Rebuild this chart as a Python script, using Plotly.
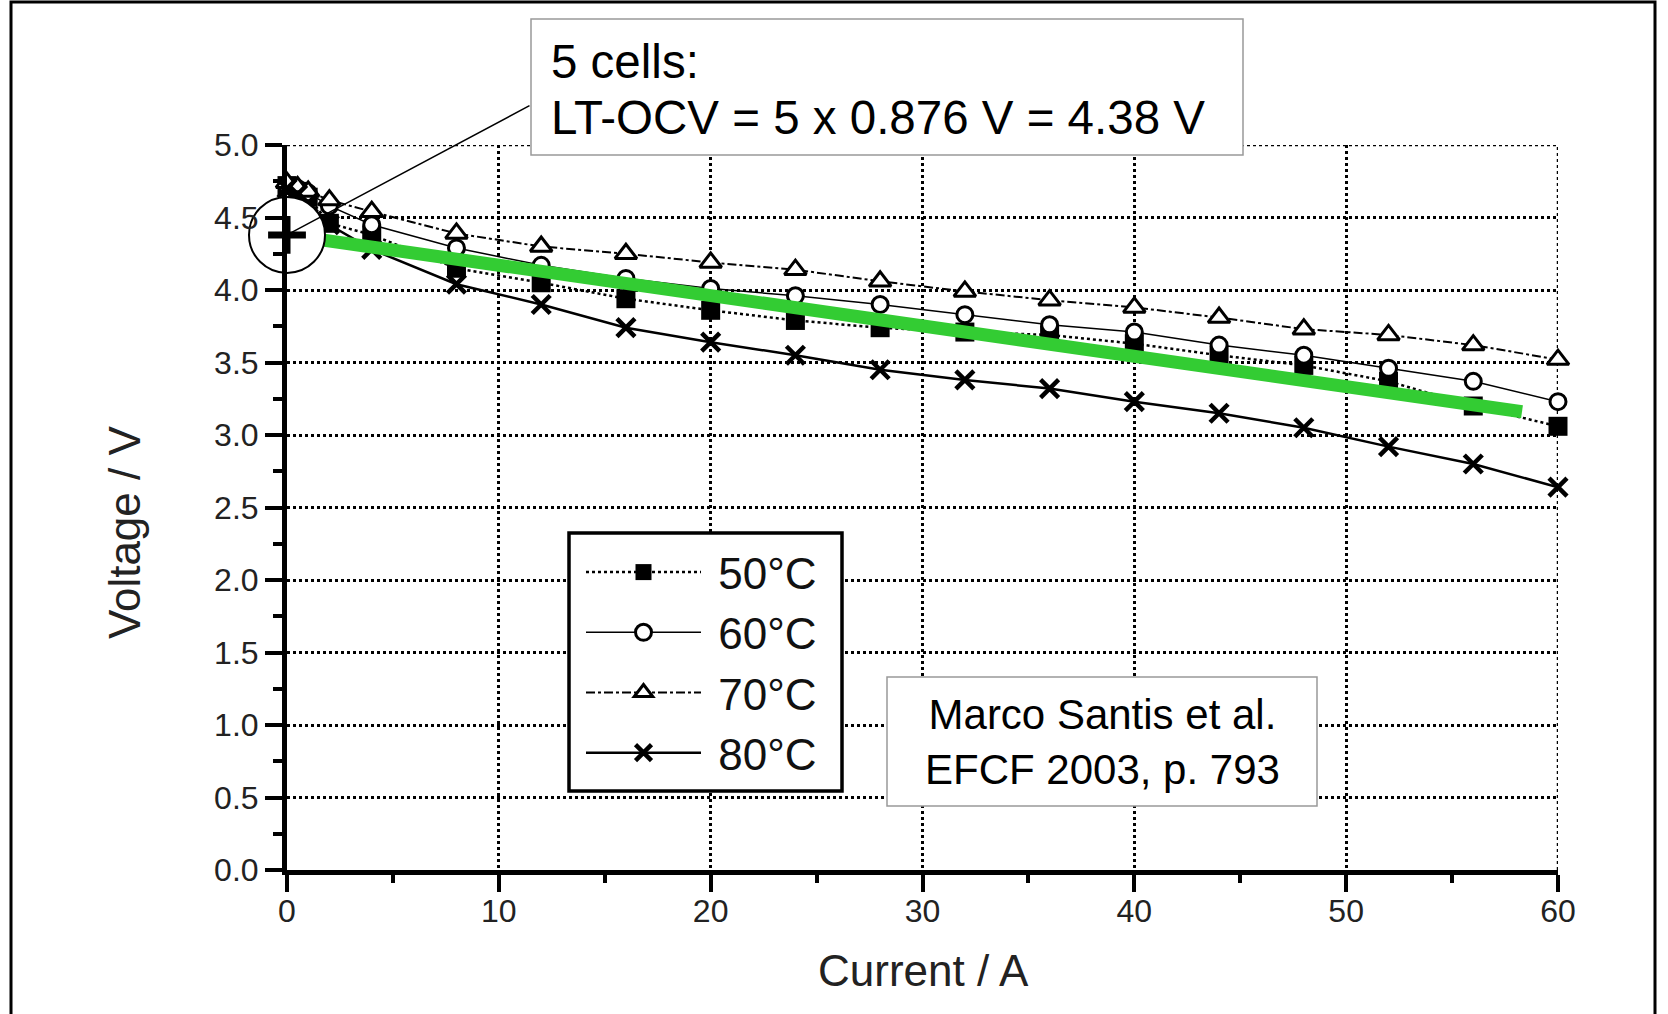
import plotly.graph_objects as go

# Stack voltage vs. current for four operating temperatures
current_a = [0, 0.5, 1, 2, 4, 8, 12, 16, 20, 24, 28, 32, 36, 40, 44, 48, 52, 56, 60]
v_50c = [4.72, 4.68, 4.64, 4.46, 4.38, 4.15, 4.05, 3.94, 3.86, 3.79, 3.74, 3.71, 3.69, 3.63, 3.55, 3.48, 3.37, 3.20, 3.06]
v_60c = [4.72, 4.70, 4.67, 4.58, 4.45, 4.29, 4.17, 4.08, 4.01, 3.96, 3.90, 3.83, 3.76, 3.71, 3.62, 3.55, 3.46, 3.37, 3.23]
v_70c = [4.74, 4.71, 4.68, 4.62, 4.54, 4.39, 4.30, 4.25, 4.19, 4.14, 4.06, 3.99, 3.93, 3.88, 3.81, 3.73, 3.69, 3.62, 3.52]
v_80c = [4.70, 4.66, 4.60, 4.45, 4.28, 4.04, 3.90, 3.74, 3.64, 3.55, 3.45, 3.38, 3.32, 3.23, 3.15, 3.05, 2.92, 2.80, 2.64]
series_names = ["50°C", "60°C", "70°C", "80°C"]

# Ideal line starting at the low-temperature open-circuit voltage
ocv_current = [0, 58.3]
ocv_voltage = [4.38, 3.16]

x_ticks = [0, 10, 20, 30, 40, 50, 60]
y_ticks = [0.0, 0.5, 1.0, 1.5, 2.0, 2.5, 3.0, 3.5, 4.0, 4.5, 5.0]
x_range = [0, 60]
y_range = [0, 5]

FONT = "Liberation Sans, Arial, sans-serif"
W, H = 1668, 1014
L, R, T, B = 287, 110, 145, 144
PW, PH = W - L - R, H - T - B
GRID_DASH = "3px,3px"


def px_x(p):
    return (p - L) / PW


def px_y(p):
    return (H - B - p) / PH


styles = [
    dict(dash="dot", width=2.5, symbol="square", fill="black", lw=0, size=19),
    dict(dash="solid", width=1.5, symbol="circle", fill="white", lw=3, size=16),
    dict(dash="dashdot", width=2, symbol="triangle-up", fill="white", lw=3, size=19),
    dict(dash="solid", width=2.5, symbol="x-thin", fill="black", lw=4.5, size=18),
]

fig = go.Figure()
for name, vals, st in zip(series_names, [v_50c, v_60c, v_70c, v_80c], styles):
    fig.add_trace(go.Scatter(
        x=current_a, y=vals, name=" " + name, mode="lines+markers", cliponaxis=False,
        line=dict(color="black", width=st["width"], dash=st["dash"]),
        marker=dict(symbol=st["symbol"], size=st["size"], color=st["fill"],
                    line=dict(color="black", width=st["lw"])),
    ))

fig.add_trace(go.Scatter(
    x=ocv_current, y=ocv_voltage, mode="lines", showlegend=False, cliponaxis=False,
    line=dict(color="#33cc33", width=13),
))
fig.add_trace(go.Scatter(
    x=[ocv_current[0]], y=[ocv_voltage[0]], mode="markers", showlegend=False, cliponaxis=False,
    marker=dict(symbol="circle", size=76, color="white", line=dict(color="black", width=2)),
))
fig.add_trace(go.Scatter(
    x=[ocv_current[0]], y=[ocv_voltage[0]], mode="markers", showlegend=False, cliponaxis=False,
    marker=dict(symbol="cross-thin", size=27, color="black", line=dict(color="black", width=7)),
))

axis_common = dict(
    showline=True, linecolor="black", linewidth=5,
    ticks="outside", ticklen=17, tickwidth=4, tickcolor="black",
    showgrid=True, gridcolor="black", gridwidth=2.5, griddash=GRID_DASH,
    zeroline=False, mirror=False,
    tickfont=dict(family=FONT, size=32, color="#222"),
)
fig.update_xaxes(range=x_range, tickvals=x_ticks, ticktext=[str(v) for v in x_ticks],
                 ticklabelstandoff=-8,
                 minor=dict(dtick=5, tick0=0, ticks="outside", ticklen=8, tickwidth=4,
                            tickcolor="black", showgrid=False),
                 **axis_common)
fig.update_yaxes(range=y_range, tickvals=y_ticks, ticktext=[f"{v:.1f}" for v in y_ticks],
                 minor=dict(dtick=0.25, tick0=0, ticks="outside", ticklen=9, tickwidth=4,
                            tickcolor="black", showgrid=False),
                 **axis_common)

annotations = [
    dict(text="Current / A", x=px_x(923), y=px_y(971), xref="paper", yref="paper",
         showarrow=False, xanchor="center", yanchor="middle",
         font=dict(family=FONT, size=44, color="#222")),
    dict(text="Voltage / V", x=px_x(124), y=px_y(533), xref="paper", yref="paper",
         showarrow=False, xanchor="center", yanchor="middle", textangle=-90,
         font=dict(family=FONT, size=44, color="#222")),
    dict(text="5 cells:", x=px_x(549), y=px_y(61),
         xref="paper", yref="paper", showarrow=False, xanchor="left", yanchor="middle",
         font=dict(family=FONT, size=47.5, color="black")),
    dict(text="LT-OCV = 5 x 0.876 V = 4.38 V", x=px_x(549), y=px_y(117),
         xref="paper", yref="paper", showarrow=False, xanchor="left", yanchor="middle",
         font=dict(family=FONT, size=47.5, color="black")),
    dict(text="Marco Santis et al.<br>EFCF 2003, p. 793", x=px_x(1102), y=px_y(742),
         xref="paper", yref="paper", showarrow=False, xanchor="center", yanchor="middle",
         align="center", font=dict(family=FONT, size=42, color="black")),
    # pointer from the OCV marker to the note box
    dict(text=" ", x=ocv_current[0], y=ocv_voltage[0], xref="x", yref="y",
         showarrow=True, arrowhead=0, arrowwidth=1.5, arrowcolor="black",
         ax=244, ay=-130, standoff=0, startstandoff=0, font=dict(size=1)),
]

grid_dash_line = dict(color="black", width=2.5, dash=GRID_DASH)
shapes = [
    # dotted grid along the far edges of the plot area
    dict(type="line", xref="x", yref="y", x0=x_range[0], x1=x_range[1],
         y0=y_range[1], y1=y_range[1], line=grid_dash_line, layer="below"),
    dict(type="line", xref="x", yref="y", x0=x_range[1], x1=x_range[1],
         y0=y_range[0], y1=y_range[1], line=grid_dash_line, layer="below"),
    # note boxes
    dict(type="rect", xref="paper", yref="paper", x0=px_x(531), x1=px_x(1243),
         y0=px_y(155), y1=px_y(19), fillcolor="white", line=dict(color="#999", width=1.5),
         layer="above"),
    dict(type="rect", xref="paper", yref="paper", x0=px_x(887), x1=px_x(1317),
         y0=px_y(806), y1=px_y(677), fillcolor="white", line=dict(color="#999", width=1.5),
         layer="above"),
    # legend frame
    dict(type="rect", xref="paper", yref="paper", x0=px_x(569), x1=px_x(842),
         y0=px_y(791), y1=px_y(533), fillcolor="white", line=dict(color="black", width=3.5),
         layer="above"),
    # outer frame
    dict(type="rect", xref="paper", yref="paper", x0=px_x(11), x1=px_x(1655),
         y0=px_y(1030), y1=px_y(2), line=dict(color="black", width=3), layer="above"),
]

fig.update_layout(
    width=W, height=H, autosize=False,
    margin=dict(l=L, r=R, t=T, b=B, pad=0),
    paper_bgcolor="white", plot_bgcolor="white",
    showlegend=True,
    legend=dict(x=px_x(581), y=px_y(537), xanchor="left", yanchor="top",
                bgcolor="rgba(0,0,0,0)", borderwidth=0,
                font=dict(family=FONT, size=44, color="#111"),
                itemwidth=115, tracegroupgap=0),
    annotations=annotations, shapes=shapes,
)

fig.write_html("out.html")
